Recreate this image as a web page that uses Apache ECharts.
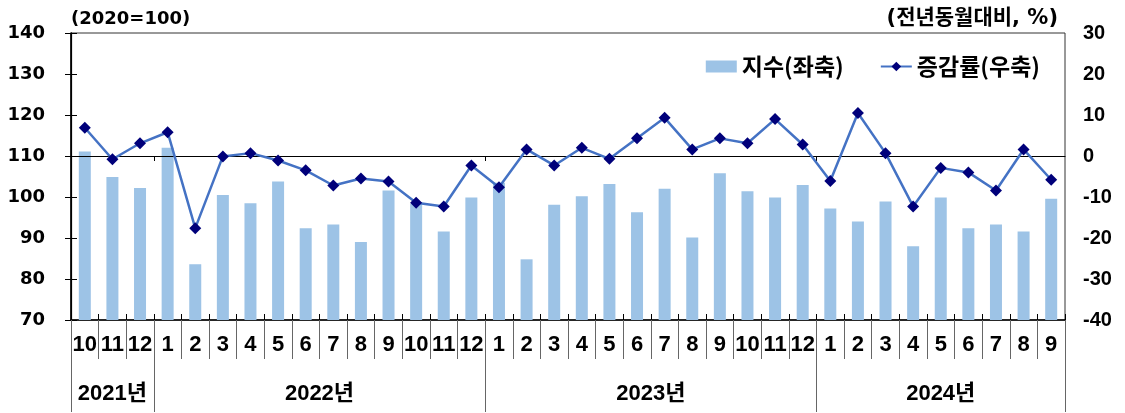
<!DOCTYPE html>
<html>
<head>
<meta charset="utf-8">
<script src="https://cdn.jsdelivr.net/npm/echarts@6/dist/echarts.min.js"></script>
<style>
html,body{margin:0;padding:0;background:#fff;}
#chart{width:1125px;height:413px;}
</style>
</head>
<body>
<div id="chart"></div>
<script>
// ---- data ----
const months = ['10','11','12','1','2','3','4','5','6','7','8','9','10','11','12',
                '1','2','3','4','5','6','7','8','9','10','11','12',
                '1','2','3','4','5','6','7','8','9'];
const years = ['2021년','2022년','2023년','2024년'];
const indexValues = [111.1,104.9,102.2,
  112.0,83.6,100.5,98.5,103.8,92.4,93.3,89.0,101.6,98.4,91.6,99.9,
  103.5,84.8,98.1,100.2,103.2,96.3,102.0,90.1,105.8,101.4,99.9,102.9,
  97.2,94.0,98.9,88.0,99.9,92.4,93.3,91.6,99.6];
const yoyValues = [6.9,-0.8,3.1,
  5.8,-17.6,-0.1,0.7,-1.1,-3.5,-7.2,-5.5,-6.2,-11.4,-12.3,-2.3,
  -7.6,1.6,-2.3,2.0,-0.7,4.3,9.3,1.6,4.3,3.1,9.0,2.8,
  -6.1,10.5,0.7,-12.3,-2.9,-4.0,-8.4,1.6,-5.8];
const leftTicks = {min:70, max:140, interval:10};
const rightTicks = {min:-40, max:30, interval:10};
const seriesNames = ['지수(좌축)','증감률(우축)'];
const leftUnit = '(2020=100)';
const rightUnit = '(전년동월대비, %)';

// year spans derived from the month labels
const yearStarts = [0];
months.forEach((m,i)=>{ if(i>0 && m==='1') yearStarts.push(i); });
const yearBounds = yearStarts.concat([months.length]);
const yearCenters = yearStarts.map((s,i)=> (s + yearBounds[i+1]) / 2);
const innerBounds = yearStarts.slice(1);

const latin = 'DejaVu Sans, Noto Sans CJK KR, sans-serif';
const arial = 'Liberation Sans, Arial, Noto Sans CJK KR, sans-serif';

const chart = echarts.init(document.getElementById('chart'), null, {renderer:'canvas'});
chart.setOption({
  animation:false,
  backgroundColor:'#fff',
  title:[
    {text:leftUnit, left:66, top:5, textStyle:{fontFamily:latin,fontWeight:'bold',fontSize:18,color:'#000'}},
    {text:rightUnit, right:62, top:3, textStyle:{fontFamily:'DejaVu Sans, Noto Sans CJK KR',fontWeight:'bold',fontSize:21,color:'#000'}}
  ],
  legend:{
    right:80, top:50, itemWidth:31, itemHeight:12, itemGap:36,
    textStyle:{fontFamily:'Noto Sans CJK KR',fontWeight:'bold',fontSize:23,color:'#000'},
    data:[{name:seriesNames[0], icon:'rect'},{name:seriesNames[1]}]
  },
  grid:{left:71, right:60, top:33, height:287, show:true, borderColor:'#333', borderWidth:1, containLabel:false},
  xAxis:[
    { // main category axis with month labels
      type:'category', data:months, position:'bottom', boundaryGap:true,
      axisLine:{onZero:false, lineStyle:{color:'#000', width:1.5}},
      axisTick:{show:true, inside:true, length:6, interval:0, lineStyle:{color:'#000'}},
      axisLabel:{interval:0, margin:14, fontFamily:arial, fontWeight:'bold', fontSize:22, color:'#000', lineHeight:22},
      splitLine:{show:false}
    },
    { // month separators below axis
      type:'category', data:months, position:'bottom', boundaryGap:true,
      axisLine:{show:false, onZero:false},
      axisTick:{show:true, inside:false, length:39, interval:0, lineStyle:{color:'#666'}},
      axisLabel:{show:false}, splitLine:{show:false}
    },
    { // year separators + year labels
      type:'value', min:0, max:months.length, position:'bottom',
      axisLine:{show:false, onZero:false},
      axisTick:{show:true, inside:false, length:92, customValues:yearBounds, lineStyle:{color:'#666'}},
      axisLabel:{show:true, customValues:yearCenters, margin:63,
        formatter:(v)=> years[yearCenters.indexOf(v)] || '',
        fontFamily:arial, fontWeight:'bold', fontSize:22, color:'#000', lineHeight:22},
      splitLine:{show:false}
    },
    { // zero line of the right axis
      type:'value', min:0, max:months.length, position:'bottom', z:3,
      axisLine:{show:true, onZero:true, onZeroAxisIndex:1, lineStyle:{color:'#000', width:1.2}},
      axisTick:{show:true, inside:false, length:5, customValues:innerBounds, lineStyle:{color:'#000'}},
      axisLabel:{show:false}, splitLine:{show:false}
    }
  ],
  yAxis:[
    {
      type:'value', position:'left', min:leftTicks.min, max:leftTicks.max, interval:leftTicks.interval,
      axisLine:{show:true, lineStyle:{color:'#000', width:1.5}},
      axisTick:{show:true, inside:true, length:6, lineStyle:{color:'#000'}},
      axisLabel:{margin:26, fontFamily:latin, fontWeight:'bold', fontSize:18, color:'#000'},
      splitLine:{show:false}
    },
    {
      type:'value', position:'right', min:rightTicks.min, max:rightTicks.max, interval:rightTicks.interval,
      axisLine:{show:true, lineStyle:{color:'#000', width:1.2}},
      axisTick:{show:true, inside:true, length:6, lineStyle:{color:'#000'}},
      axisLabel:{margin:18, fontFamily:arial, fontWeight:'bold', fontSize:20, color:'#000'},
      splitLine:{show:false}
    }
  ],
  series:[
    {
      name:seriesNames[0], type:'bar', xAxisIndex:0, yAxisIndex:0,
      data:indexValues, barWidth:12,
      itemStyle:{color:'#9DC3E6'}
    },
    {
      name:seriesNames[1], type:'line', xAxisIndex:0, yAxisIndex:1, z:4,
      data:yoyValues, symbol:'diamond', symbolSize:12,
      lineStyle:{color:'#4472C4', width:2.5},
      itemStyle:{color:'#00007A'}
    }
  ]
});
</script>
</body>
</html>
